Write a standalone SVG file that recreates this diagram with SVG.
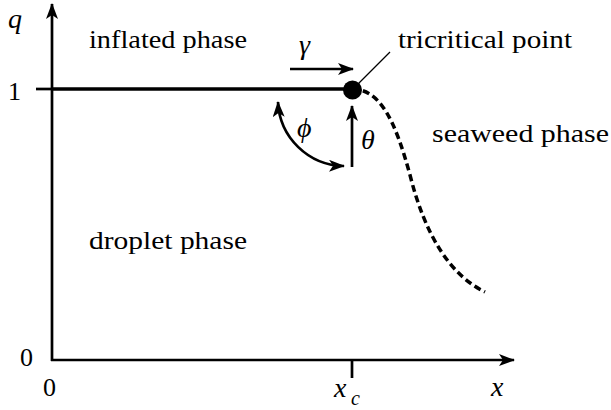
<svg xmlns="http://www.w3.org/2000/svg" width="611" height="410" viewBox="0 0 611 410">
<defs>
<marker id="ah" viewBox="0 0 16 12" refX="15" refY="6" markerWidth="16" markerHeight="12" markerUnits="userSpaceOnUse" orient="auto">
<path d="M0,0 L16,6 L0,12 L4,6 Z" fill="#000"/>
</marker>
<marker id="ahs" viewBox="0 0 16 12" refX="1" refY="6" markerWidth="16" markerHeight="12" markerUnits="userSpaceOnUse" orient="auto">
<path d="M16,0 L0,6 L16,12 L12,6 Z" fill="#000"/>
</marker>
</defs>
<style>
.ax{stroke:#000;stroke-width:2.7;fill:none}
.t{font-family:'Liberation Serif','Times New Roman',serif;font-size:26px;fill:#000}
.m{font-family:'Liberation Serif','Times New Roman',serif;font-size:28px;font-style:italic;fill:#000}
</style>
<g id="axes">
<line class="ax" x1="52" y1="361" x2="52" y2="4" marker-end="url(#ah)"/>
<line class="ax" x1="51" y1="360" x2="514" y2="360" marker-end="url(#ah)"/>
<line class="ax" x1="36" y1="89" x2="52" y2="89"/>
<line class="ax" x1="352" y1="360" x2="352" y2="378"/>
</g>
<g id="connectors">
<line x1="52" y1="89" x2="352" y2="89" stroke="#000" stroke-width="3.3"/>
<path d="M352,89 C380,89 395,120 410,175 C425,235 450,275 485,292" fill="none" stroke="#000" stroke-width="3.5" stroke-dasharray="7,4"/>
<line x1="290" y1="69" x2="353" y2="69" stroke="#000" stroke-width="2.7" marker-end="url(#ah)"/>
<line x1="352" y1="167" x2="352" y2="106" stroke="#000" stroke-width="2.7" marker-end="url(#ah)"/>
<path d="M344,166 A67,67 0 0 1 278,102" fill="none" stroke="#000" stroke-width="2.7" marker-end="url(#ah)" marker-start="url(#ahs)"/>
<line x1="352" y1="90" x2="390" y2="52" stroke="#000" stroke-width="1.2"/>
</g>
<g id="tricritical-point">
<circle cx="352.5" cy="90" r="9.5" fill="#000"/>
<text class="t" font-family="Liberation Serif, Times New Roman, serif" x="398" y="48" textLength="174" lengthAdjust="spacingAndGlyphs">tricritical point</text>
</g>
<g id="labels">
<text class="t" font-family="Liberation Serif, Times New Roman, serif" x="89" y="48" textLength="158" lengthAdjust="spacingAndGlyphs">inflated phase</text>
<text class="t" font-family="Liberation Serif, Times New Roman, serif" x="89" y="249" textLength="158" lengthAdjust="spacingAndGlyphs">droplet phase</text>
<text class="t" font-family="Liberation Serif, Times New Roman, serif" x="432" y="142" textLength="177" lengthAdjust="spacingAndGlyphs">seaweed phase</text>
<text class="m" font-family="Liberation Serif, Times New Roman, serif" x="8" y="28">q</text>
<text class="t" font-family="Liberation Serif, Times New Roman, serif" x="8" y="100">1</text>
<text class="t" font-family="Liberation Serif, Times New Roman, serif" x="20" y="366">0</text>
<text class="t" font-family="Liberation Serif, Times New Roman, serif" x="43" y="396">0</text>
<text class="m" font-family="Liberation Serif, Times New Roman, serif" x="334" y="397">x</text>
<text class="m" font-family="Liberation Serif, Times New Roman, serif" x="351" y="405" style="font-size:20px">c</text>
<text class="m" font-family="Liberation Serif, Times New Roman, serif" x="491" y="396">x</text>
<text class="m" font-family="Liberation Serif, Times New Roman, serif" x="299" y="54">γ</text>
<text class="m" font-family="Liberation Serif, Times New Roman, serif" x="297" y="137">ϕ</text>
<text class="m" font-family="Liberation Serif, Times New Roman, serif" x="361" y="149">θ</text>
</g>
</svg>
